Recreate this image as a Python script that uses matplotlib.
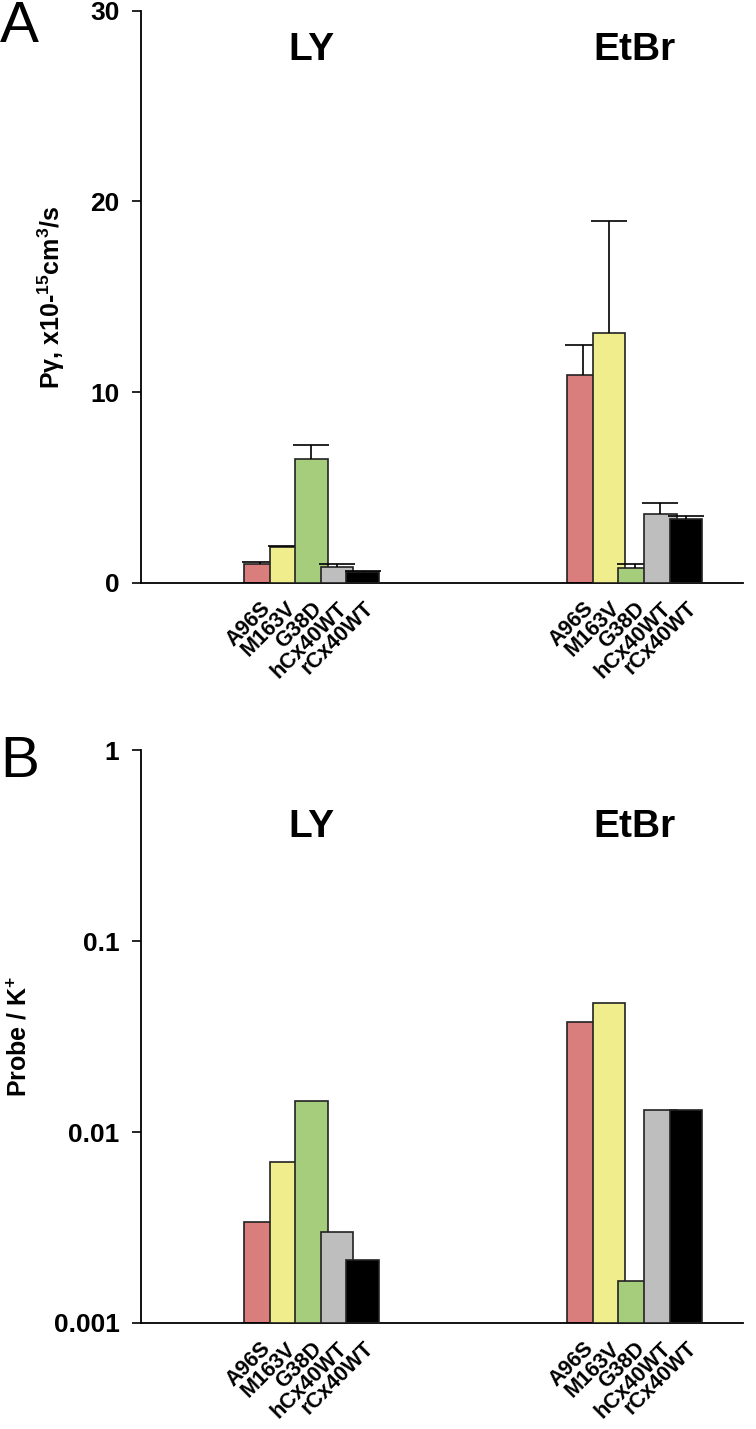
import matplotlib
matplotlib.use("Agg")
import matplotlib.pyplot as plt
from matplotlib.ticker import FixedLocator, NullLocator

plt.rcParams['font.family'] = ['Liberation Sans', 'DejaVu Sans']
plt.rcParams['font.weight'] = 'bold'
plt.rcParams['mathtext.fontset'] = 'custom'
plt.rcParams['mathtext.rm'] = 'Liberation Sans:bold'
plt.rcParams['mathtext.bf'] = 'Liberation Sans:bold'
plt.rcParams['mathtext.default'] = 'bf'

# data
mutants = ['A96S', 'M163V', 'G38D', 'hCx40WT', 'rCx40WT']
colors = ['#D97D7D', '#F0EE8C', '#A6CD7C', '#BEBEBE', '#000000']
probes = ['LY', 'EtBr']

perm_ly = [0.97, 1.89, 6.51, 0.81, 0.56]
perm_ly_err = [0.12, 0.05, 0.74, 0.17, 0.05]
perm_etbr = [10.91, 13.10, 0.76, 3.61, 3.36]
perm_etbr_err = [1.55, 5.88, 0.21, 0.56, 0.16]

ratio_ly = [0.0034, 0.0070, 0.0146, 0.0030, 0.00214]
ratio_etbr = [0.0378, 0.0477, 0.00165, 0.0131, 0.0131]

group_start = [0.0, 12.62]
bar_w = 1.27

fig = plt.figure(figsize=(7.56, 14.29), dpi=100)
axA = fig.add_axes([0.1865, 0.5922, 0.7965, 0.4003])
axB = fig.add_axes([0.1865, 0.0742, 0.7965, 0.4007])


def draw_group(ax, start, vals, errs=None, base=0.0):
    for i in range(len(vals)):
        left = start + i
        ax.bar(left, vals[i] - base, bar_w, bottom=base, align='edge', color=colors[i],
               edgecolor='#222222', linewidth=1.2, zorder=2 + 2 * i)
        if errs is not None:
            eb = ax.errorbar(left + bar_w / 2, vals[i], yerr=[[0], [errs[i]]], fmt='none',
                             ecolor='black', elinewidth=1.2, capsize=13, capthick=1.2,
                             zorder=3 + 2 * i)
            # only the upper half is shown, so drop the cap sitting on the bar top
            eb[1][0].set_visible(False)


def style(ax):
    ax.spines['top'].set_visible(False)
    ax.spines['right'].set_visible(False)
    ax.spines['left'].set_linewidth(1.3)
    ax.spines['bottom'].set_linewidth(1.3)
    ax.set_xlim(-4.02, 19.49)
    centers = [g + i + bar_w / 2 for g in group_start for i in range(len(mutants))]
    ax.set_xticks(centers)
    ax.set_xticklabels(mutants * 2, rotation=45, ha='right', rotation_mode='anchor',
                       fontsize=15.5, fontweight='bold')
    ax.tick_params(axis='x', length=0, pad=11)
    ax.tick_params(axis='y', length=6.5, width=1.2, pad=9, labelsize=19)
    for lab in ax.get_yticklabels():
        lab.set_fontweight('bold')


draw_group(axA, group_start[0], perm_ly, perm_ly_err)
draw_group(axA, group_start[1], perm_etbr, perm_etbr_err)
axA.set_ylim(0, 30)
axA.set_yticks([0, 10, 20, 30])
style(axA)

draw_group(axB, group_start[0], ratio_ly, base=0.001)
draw_group(axB, group_start[1], ratio_etbr, base=0.001)
axB.set_yscale('log')
axB.set_ylim(0.001, 1)
axB.yaxis.set_major_locator(FixedLocator([0.001, 0.01, 0.1, 1]))
axB.yaxis.set_minor_locator(NullLocator())
axB.set_yticklabels(['0.001', '0.01', '0.1', '1'])
style(axB)

for ax, ty in [(axA, 0.931), (axB, 0.866)]:
    for g, name in zip(group_start, probes):
        ax.text(g + (len(mutants) - 1 + bar_w) / 2, ty, name,
                transform=ax.get_xaxis_transform(), ha='center', va='center',
                fontsize=28, fontweight='bold')

fig.text(0.068, 0.792, r'P$\gamma$, x10-$^{15}$cm$^{3}$/s', rotation=90,
         ha='center', va='center', fontsize=18, fontweight='bold')
fig.text(0.025, 0.275, r'Probe / K$^{+}$', rotation=90,
         ha='center', va='center', fontsize=18, fontweight='bold')

fig.text(0.0, 1.0, 'A', fontsize=42, fontweight='normal', ha='left', va='top')
fig.text(0.0, 0.486, 'B', fontsize=42, fontweight='normal', ha='left', va='top')

fig.savefig('out.png', dpi=100)
